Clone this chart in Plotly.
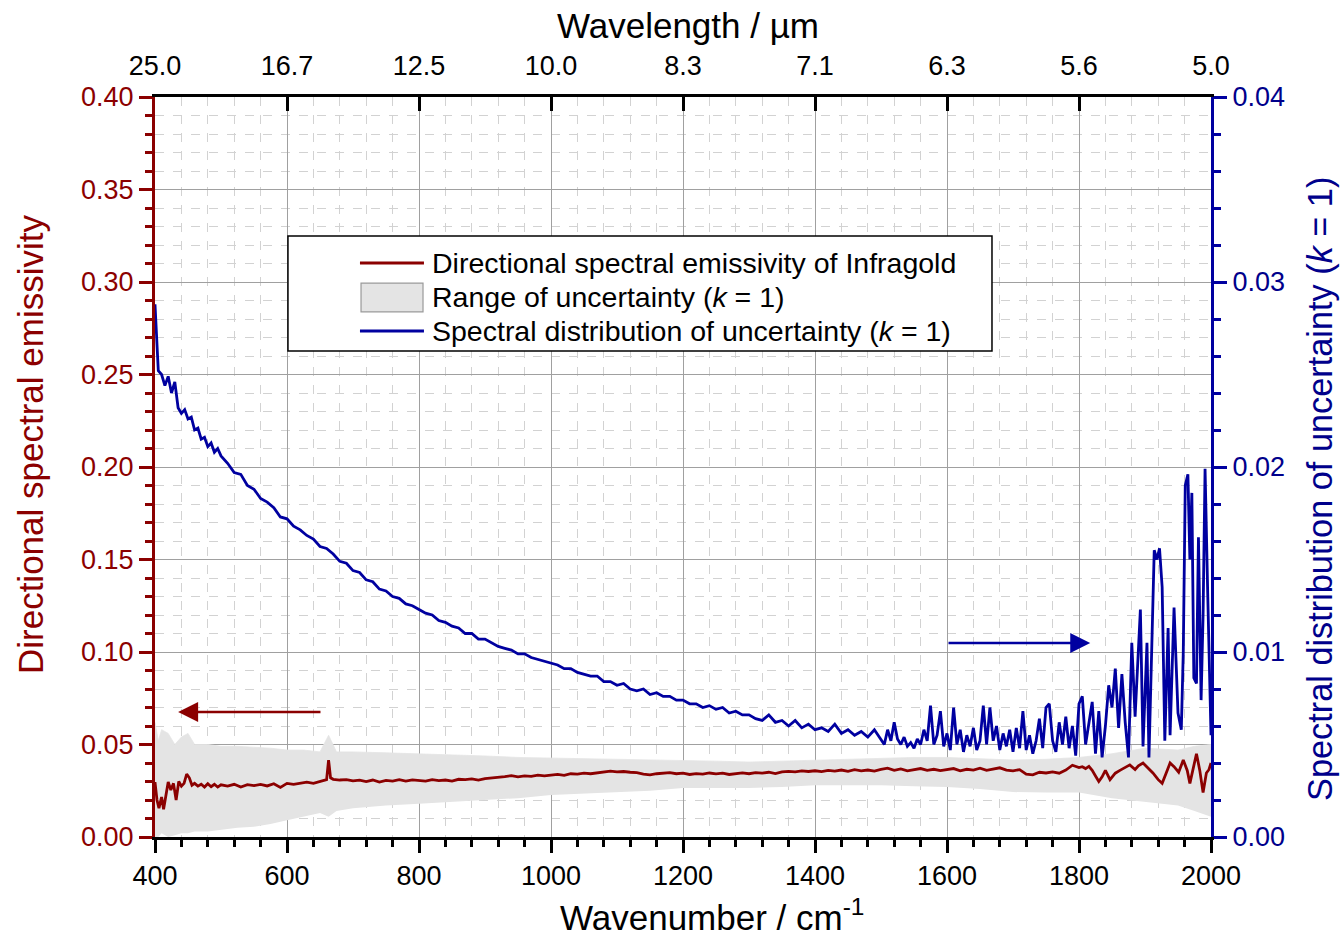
import plotly.graph_objects as go

# ---------------- data ----------------
# Spectral distribution of uncertainty (k = 1), right axis
unc_wn = (list(range(400, 505, 5)) + list(range(510, 1510, 10)) +
          [1505, 1510, 1515, 1520, 1525, 1530, 1535, 1540, 1545, 1550,
           1555, 1560, 1565, 1570, 1575, 1580, 1585, 1590, 1595, 1600,
           1605, 1610, 1615, 1620, 1625, 1630, 1635, 1640, 1645, 1650,
           1655, 1660, 1665, 1670, 1675, 1680, 1685, 1690, 1695, 1700,
           1705, 1710, 1715, 1720, 1725, 1730, 1735, 1740, 1745, 1750,
           1755, 1760, 1765, 1770, 1775, 1780, 1785, 1790, 1795, 1800,
           1805, 1810, 1815, 1820, 1825, 1830, 1835, 1840, 1845, 1850,
           1855, 1860, 1865, 1870, 1875, 1880, 1885, 1890, 1893, 1897,
           1903, 1906, 1910, 1914, 1918, 1922, 1926, 1930, 1935, 1938,
           1944, 1950, 1955, 1958, 1961, 1965, 1968, 1971, 1974, 1978,
           1981, 1985, 1988, 1991, 1995, 1998, 2000])
unc = [0.0288, 0.0252, 0.0250, 0.0244, 0.0249, 0.0240, 0.0246, 0.0232, 0.0229, 0.0231,
       0.0226, 0.0227, 0.0220, 0.0221, 0.0215, 0.0216, 0.0211, 0.0213, 0.0208, 0.0210,
       0.0206,
       0.0202, 0.0197, 0.0196, 0.0190, 0.0188, 0.0183, 0.0181, 0.0178, 0.0173, 0.0172,
       0.0168, 0.0166, 0.0163, 0.0161, 0.0157, 0.0156, 0.0153, 0.0149, 0.0148, 0.0144,
       0.0143, 0.0139, 0.0138, 0.0134, 0.0133, 0.0130, 0.0129, 0.0126, 0.0125, 0.0123,
       0.0121, 0.0120, 0.0117, 0.0116, 0.0114, 0.0113, 0.0110, 0.0110, 0.0107, 0.0107,
       0.0105, 0.0103, 0.0102, 0.0101, 0.0099, 0.0099, 0.0097, 0.0096, 0.0095, 0.0094,
       0.0093, 0.0091, 0.0091, 0.0089, 0.0088, 0.0087, 0.0087, 0.0084, 0.0084, 0.0082,
       0.0083, 0.0080, 0.0079, 0.0080, 0.0077, 0.0078, 0.0076, 0.0076, 0.0074, 0.0074,
       0.0072, 0.0072, 0.0070, 0.0071, 0.0069, 0.0070, 0.0067, 0.0068, 0.0066, 0.0066,
       0.0064, 0.0063, 0.0066, 0.0062, 0.0063, 0.0060, 0.0063, 0.0059, 0.0061, 0.0058,
       0.0059, 0.0057, 0.0061, 0.0056, 0.0058, 0.0055, 0.0057, 0.0054, 0.0058, 0.0053,
       0.0050, 0.0058, 0.0052, 0.0062, 0.0053, 0.0050, 0.0054, 0.0049, 0.0051, 0.0048,
       0.0053, 0.0050, 0.0058, 0.0052, 0.0071, 0.0050, 0.0055, 0.0068, 0.0049, 0.0056,
       0.0047, 0.0070, 0.0050, 0.0058, 0.0046, 0.0055, 0.0049, 0.0059, 0.0047, 0.0052,
       0.0071, 0.0050, 0.0070, 0.0052, 0.0060, 0.0047, 0.0056, 0.0049, 0.0058, 0.0046,
       0.0059, 0.0048, 0.0068, 0.0047, 0.0055, 0.0045, 0.0052, 0.0064, 0.0048, 0.0070,
       0.0072, 0.0052, 0.0046, 0.0062, 0.0050, 0.0065, 0.0048, 0.0060, 0.0044, 0.0072,
       0.0076, 0.0050, 0.0062, 0.0073, 0.0045, 0.0068, 0.0043, 0.0060, 0.0082, 0.0070,
       0.0091, 0.0059, 0.0088, 0.0062, 0.0043, 0.0105, 0.0065, 0.0100, 0.0123, 0.0049,
       0.0105, 0.0043, 0.0097, 0.0155, 0.0150, 0.0156, 0.0135, 0.0052, 0.0113, 0.0055,
       0.0124, 0.0067, 0.0058, 0.0100, 0.0190, 0.0196, 0.0150, 0.0186, 0.0086, 0.0083,
       0.0162, 0.0074, 0.0120, 0.0199, 0.0132, 0.0080, 0.0055]

# Directional spectral emissivity of Infragold, left axis
emis_wn = ([400, 403, 406, 410, 413, 416, 420, 424, 428, 432, 436, 440, 444, 448,
            452, 456, 460, 465, 470, 475, 480, 485, 490, 495, 500] +
           list(range(510, 660, 10)) + [655, 660, 663, 666, 670] +
           list(range(680, 1810, 10)) +
           [1805, 1810, 1815, 1820, 1825, 1830, 1835, 1840, 1847, 1855, 1862, 1870,
            1877, 1885, 1890, 1897, 1905, 1912, 1920, 1926, 1932, 1938, 1944, 1951,
            1958, 1964, 1968, 1973, 1978, 1983, 1988, 1993, 1997, 2000])
emis = [0.0297, 0.0200, 0.0156, 0.0216, 0.0150, 0.0210, 0.0297, 0.0254, 0.0290, 0.0200,
        0.0300, 0.0275, 0.0290, 0.0340, 0.0320, 0.0280, 0.0290, 0.0275, 0.0285, 0.0270,
        0.0288, 0.0272, 0.0285, 0.0270, 0.0282,
        0.0275, 0.0285, 0.0270, 0.0283, 0.0278, 0.0284, 0.0276, 0.0288, 0.0268, 0.0290,
        0.0285, 0.0292, 0.0296, 0.0290, 0.0302,
        0.0305, 0.0310, 0.0416, 0.0320, 0.0312,
        0.0308, 0.0310, 0.0303, 0.0307, 0.0300, 0.0308, 0.0297, 0.0306, 0.0302, 0.0310,
        0.0302, 0.0309, 0.0306, 0.0302, 0.0310, 0.0305, 0.0308, 0.0302, 0.0312, 0.0310,
        0.0314, 0.0308, 0.0316, 0.0318, 0.0322, 0.0326, 0.0332, 0.0325, 0.0330, 0.0328,
        0.0334, 0.0330, 0.0335, 0.0338, 0.0333, 0.0342, 0.0340, 0.0345, 0.0342, 0.0348,
        0.0350, 0.0356, 0.0352, 0.0354, 0.0350, 0.0348, 0.0340, 0.0336, 0.0342, 0.0345,
        0.0348, 0.0342, 0.0345, 0.0338, 0.0343, 0.0340, 0.0346, 0.0341, 0.0345, 0.0338,
        0.0344, 0.0347, 0.0342, 0.0348, 0.0345, 0.0350, 0.0343, 0.0352, 0.0355, 0.0352,
        0.0357, 0.0354, 0.0358, 0.0353, 0.0360, 0.0356, 0.0362, 0.0355, 0.0364, 0.0358,
        0.0362, 0.0356, 0.0365, 0.0372, 0.0360, 0.0368, 0.0358, 0.0364, 0.0370, 0.0360,
        0.0366, 0.0359, 0.0363, 0.0370, 0.0358, 0.0366, 0.0362, 0.0372, 0.0360, 0.0368,
        0.0374, 0.0362, 0.0358, 0.0364, 0.0340, 0.0336, 0.0350, 0.0346, 0.0352, 0.0345,
        0.0362, 0.0388, 0.0375,
        0.0380, 0.0370, 0.0382, 0.0360, 0.0330, 0.0300, 0.0325, 0.0360, 0.0310, 0.0345,
        0.0360, 0.0375, 0.0390, 0.0365, 0.0385, 0.0400, 0.0370, 0.0346, 0.0310, 0.0290,
        0.0345, 0.0400, 0.0380, 0.0350, 0.0416, 0.0360, 0.0290, 0.0380, 0.0450, 0.0360,
        0.0240, 0.0346, 0.0365, 0.0400]

# Range of uncertainty (k = 1), left axis
band_wn = [400, 405, 410, 420, 430, 440, 450, 460, 480, 500,
           525, 550, 575, 600, 625, 650, 663, 675, 700, 750,
           800, 850, 900, 950, 1000, 1050, 1100, 1150, 1200, 1250,
           1300, 1350, 1400, 1450, 1500, 1550, 1600, 1650, 1700, 1750,
           1800, 1850, 1900, 1950, 1975, 2000]
band_hi = [0.062, 0.052, 0.058, 0.056, 0.050, 0.054, 0.056, 0.050, 0.050, 0.049,
           0.049, 0.0487, 0.048, 0.047, 0.047, 0.046, 0.055, 0.046, 0.046, 0.0455,
           0.045, 0.0445, 0.0438, 0.043, 0.0427, 0.0423, 0.042, 0.0418, 0.0416, 0.041,
           0.0405, 0.041, 0.0416, 0.042, 0.0427, 0.043, 0.043, 0.0425, 0.0416, 0.042,
           0.043, 0.045, 0.048, 0.047, 0.049, 0.050]
band_lo = [0.000, 0.000, 0.002, 0.000, 0.001, 0.002, 0.002, 0.003, 0.003, 0.004,
           0.005, 0.0056, 0.007, 0.009, 0.011, 0.013, 0.011, 0.014, 0.0155, 0.017,
           0.018, 0.019, 0.020, 0.021, 0.0227, 0.0235, 0.0243, 0.025, 0.0265, 0.0265,
           0.0265, 0.027, 0.028, 0.028, 0.028, 0.0275, 0.027, 0.026, 0.0243, 0.024,
           0.024, 0.021, 0.019, 0.017, 0.014, 0.011]

# top axis: wavelength labels at the wavenumber ticks
top_tickvals = [400, 600, 800, 1000, 1200, 1400, 1600, 1800, 2000]
top_ticktext = ["25.0", "16.7", "12.5", "10.0", "8.3", "7.1", "6.3", "5.6", "5.0"]

legend_labels = ["Directional spectral emissivity of Infragold",
                 "Range of uncertainty (<i>k</i> = 1)",
                 "Spectral distribution of uncertainty (<i>k</i> = 1)"]

assert len(unc_wn) == len(unc)
assert len(emis_wn) == len(emis)
assert len(band_wn) == len(band_hi) == len(band_lo)

# ---------------- style ----------------
RED = "#8b0000"
BLUE = "#0000a0"
BLUE_TXT = "#00008b"
BAND = "#e4e4e4"
FONT = "Liberation Sans, Arial, sans-serif"
TICK_FS = 27
TITLE_FS = 35
LEG_FS = 28.5

fig = go.Figure()

fig.add_trace(go.Scatter(x=band_wn, y=band_lo, mode="lines", line=dict(width=0, color=BAND),
                         showlegend=False, hoverinfo="skip"))
fig.add_trace(go.Scatter(x=band_wn, y=band_hi, mode="lines", fill="tonexty",
                         fillcolor=BAND, line=dict(width=0.8, color=BAND),
                         name=legend_labels[1], showlegend=False))
fig.add_trace(go.Scatter(x=emis_wn, y=emis, mode="lines", line=dict(color=RED, width=2.8),
                         name=legend_labels[0], showlegend=False))
fig.add_trace(go.Scatter(x=unc_wn, y=unc, mode="lines", line=dict(color=BLUE, width=2.8),
                         yaxis="y2", name=legend_labels[2], showlegend=False))
# invisible trace to activate the top axis
fig.add_trace(go.Scatter(x=[400, 2000], y=[None, None], xaxis="x2", mode="lines",
                         showlegend=False, hoverinfo="skip"))

grid_major = "#a0a0a0"
grid_minor = "#d2d2d2"

fig.update_layout(
    width=1342, height=938,
    margin=dict(l=155, r=131, t=97, b=101),
    paper_bgcolor="white", plot_bgcolor="white",
    font=dict(family=FONT, size=TICK_FS, color="black"),
    showlegend=False,
    xaxis=dict(range=[400, 2000], dtick=200, tick0=400,
               showline=True, linecolor="black", linewidth=3,
               ticks="outside", ticklen=13, tickwidth=3, tickcolor="black",
               showgrid=True, gridcolor=grid_major, gridwidth=1,
               minor=dict(dtick=40, ticks="outside", ticklen=7, tickwidth=3, tickcolor="black",
                          showgrid=True, gridcolor=grid_minor, griddash="dash", gridwidth=1),
               zeroline=False, tickfont=dict(size=TICK_FS, color="black")),
    xaxis2=dict(range=[400, 2000], overlaying="x", side="top", anchor="y",
                tickmode="array", tickvals=top_tickvals, ticktext=top_ticktext,
                showline=True, linecolor="black", linewidth=3,
                ticks="inside", ticklen=14, tickwidth=3, tickcolor="black",
                ticklabelstandoff=8,
                showgrid=False, zeroline=False, tickfont=dict(size=TICK_FS, color="black")),
    yaxis=dict(range=[0, 0.4], dtick=0.05, tick0=0, tickformat=".2f",
               showline=True, linecolor=RED, linewidth=3,
               ticks="outside", ticklen=13, tickwidth=3, tickcolor=RED,
               showgrid=True, gridcolor=grid_major, gridwidth=1,
               minor=dict(dtick=0.01, ticks="outside", ticklen=7, tickwidth=3, tickcolor=RED,
                          showgrid=True, gridcolor=grid_minor, griddash="dash", gridwidth=1),
               zeroline=False, tickfont=dict(size=TICK_FS, color=RED)),
    yaxis2=dict(range=[0, 0.04], dtick=0.01, tick0=0, tickformat=".2f",
                overlaying="y", side="right",
                showline=True, linecolor=BLUE, linewidth=3,
                ticks="outside", ticklen=13, tickwidth=3, tickcolor=BLUE,
                minor=dict(dtick=0.002, ticks="outside", ticklen=7, tickwidth=3, tickcolor=BLUE,
                           showgrid=False),
                showgrid=False, zeroline=False, tickfont=dict(size=TICK_FS, color=BLUE_TXT)),
)

# ---- legend (frame, symbols, labels) ----
fig.add_shape(type="rect", xref="paper", yref="paper",
              x0=0.1259, x1=0.7926, y0=0.6568, y1=0.8122,
              line=dict(color="black", width=1.5), fillcolor="white", layer="above")
fig.add_shape(type="line", xref="paper", yref="paper",
              x0=0.1941, x1=0.2547, y0=0.7757, y1=0.7757,
              line=dict(color=RED, width=2.8), layer="above")
fig.add_shape(type="rect", xref="paper", yref="paper",
              x0=0.1951, x1=0.2538, y0=0.7095, y1=0.7486,
              line=dict(color="#9a9a9a", width=1.2), fillcolor=BAND, layer="above")
fig.add_shape(type="line", xref="paper", yref="paper",
              x0=0.1941, x1=0.2547, y0=0.6838, y1=0.6838,
              line=dict(color=BLUE, width=2.8), layer="above")
for lab, yy in zip(legend_labels, [0.7757, 0.7297, 0.6838]):
    fig.add_annotation(text=lab, xref="paper", yref="paper", x=0.2604, y=yy,
                       xanchor="left", yanchor="middle", showarrow=False,
                       font=dict(size=LEG_FS, color="black", family=FONT))

# ---- axis titles ----
fig.add_annotation(text="Wavenumber / cm<sup>-1</sup>", xref="paper", yref="paper",
                   x=0.5275, y=-0.1054, xanchor="center", yanchor="middle", showarrow=False,
                   font=dict(size=TITLE_FS, color="black", family=FONT))
fig.add_annotation(text="Wavelength / µm", xref="paper", yref="paper",
                   x=0.5047, y=1.097, xanchor="center", yanchor="middle", showarrow=False,
                   font=dict(size=TITLE_FS, color="black", family=FONT))
fig.add_annotation(text="Directional spectral emissivity", xref="paper", yref="paper",
                   x=-0.1184, y=0.531, xanchor="center", yanchor="middle",
                   showarrow=False, textangle=-90,
                   font=dict(size=TITLE_FS, color=RED, family=FONT))
fig.add_annotation(text="Spectral distribution of uncertainty (<i>k</i> = 1)",
                   xref="paper", yref="paper", x=1.103, y=0.470,
                   xanchor="center", yanchor="middle", showarrow=False, textangle=-90,
                   font=dict(size=34.3, color=BLUE_TXT, family=FONT))

# ---- direction arrows ----
fig.add_annotation(x=435, y=0.0676, ax=653, ay=0.0676, xref="x", yref="y",
                   axref="x", ayref="y", text="", showarrow=True,
                   arrowhead=2, arrowsize=1.6, arrowwidth=2.5, arrowcolor=RED)
fig.add_annotation(x=1817, y=0.01049, ax=1600, ay=0.01049, xref="x", yref="y2",
                   axref="x", ayref="y2", text="", showarrow=True,
                   arrowhead=2, arrowsize=1.6, arrowwidth=2.5, arrowcolor=BLUE)

fig.write_html("out.html")
